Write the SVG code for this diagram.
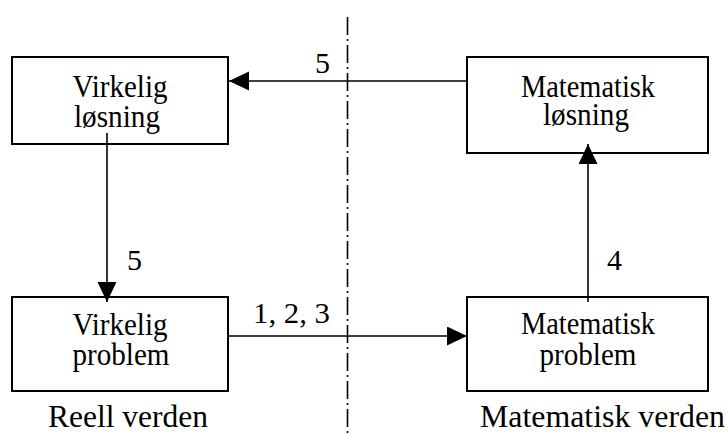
<svg xmlns="http://www.w3.org/2000/svg" width="728" height="434" viewBox="0 0 728 434">
  <style>
    .box { fill: none; stroke: #000; stroke-width: 2; }
    .lbl { font-family: "Liberation Serif", "Times New Roman", serif; font-size: 31px; fill: #000; text-anchor: middle; }
    .num { font-family: "Liberation Serif", "Times New Roman", serif; font-size: 30px; fill: #000; }
    .world { font-family: "Liberation Serif", "Times New Roman", serif; font-size: 31.5px; fill: #000; }
    .edge { fill: none; stroke: #000; stroke-width: 1.6; }
    .divider { fill: none; stroke: #000; stroke-width: 1.6; stroke-dasharray: 18 4 2 4; }
  </style>
  <defs>
    <marker id="arrow" markerUnits="userSpaceOnUse" markerWidth="22" markerHeight="20" refX="20" refY="9.5" orient="auto">
      <path d="M0,0 L20,9.5 L0,19 Z" fill="#000"/>
    </marker>
  </defs>
  <rect width="728" height="434" fill="#fff"/>

  <!-- divider between the two worlds -->
  <line class="divider" x1="347.5" y1="17" x2="347.5" y2="434"/>

  <g id="connectors">
    <line class="edge" x1="467" y1="81" x2="229" y2="81" marker-end="url(#arrow)"/>
    <line class="edge" x1="107" y1="133" x2="107" y2="302" marker-end="url(#arrow)"/>
    <line class="edge" x1="228" y1="336" x2="467" y2="336" marker-end="url(#arrow)"/>
    <line class="edge" x1="588" y1="302" x2="588" y2="144" marker-end="url(#arrow)"/>
    <text class="num" x="315" y="73">5</text>
    <text class="num" x="127" y="270">5</text>
    <text class="num" x="607" y="270">4</text>
    <text class="num" x="253" y="323" textLength="77" lengthAdjust="spacingAndGlyphs">1, 2, 3</text>
  </g>

  <g id="virkelig-losning">
    <rect class="box" x="12" y="57" width="216" height="87"/>
    <text class="lbl" x="120" y="97" textLength="95" lengthAdjust="spacingAndGlyphs">Virkelig</text>
    <text class="lbl" x="117" y="127" textLength="86" lengthAdjust="spacingAndGlyphs">løsning</text>
  </g>

  <g id="matematisk-losning">
    <rect class="box" x="467" y="57" width="241" height="96"/>
    <text class="lbl" x="588" y="97" textLength="134" lengthAdjust="spacingAndGlyphs">Matematisk</text>
    <text class="lbl" x="586" y="125" textLength="86" lengthAdjust="spacingAndGlyphs">løsning</text>
  </g>

  <g id="virkelig-problem">
    <rect class="box" x="12" y="297" width="216" height="94"/>
    <text class="lbl" x="120" y="335" textLength="95" lengthAdjust="spacingAndGlyphs">Virkelig</text>
    <text class="lbl" x="121" y="365" textLength="97" lengthAdjust="spacingAndGlyphs">problem</text>
  </g>

  <g id="matematisk-problem">
    <rect class="box" x="467" y="297" width="241" height="94"/>
    <text class="lbl" x="588" y="334" textLength="134" lengthAdjust="spacingAndGlyphs">Matematisk</text>
    <text class="lbl" x="588" y="365" textLength="97" lengthAdjust="spacingAndGlyphs">problem</text>
  </g>

  <text class="world" x="48" y="427" textLength="160" lengthAdjust="spacingAndGlyphs">Reell verden</text>
  <text class="world" x="480" y="427" textLength="245" lengthAdjust="spacingAndGlyphs">Matematisk verden</text>
</svg>
